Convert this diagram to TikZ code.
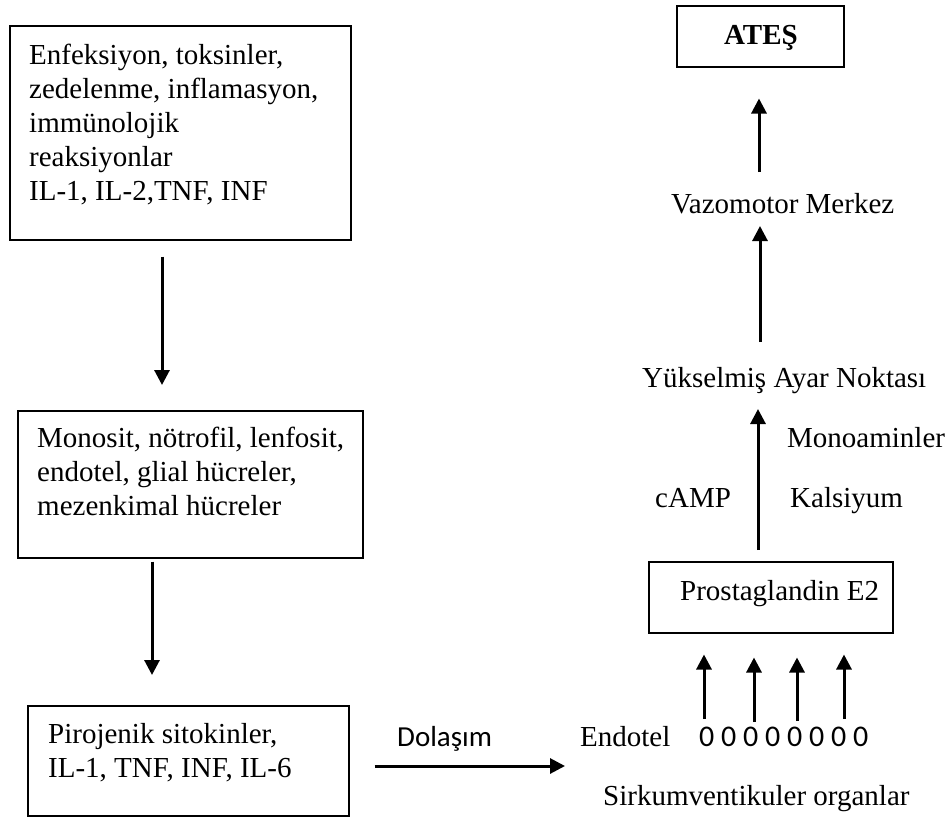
\documentclass[tikz,border=0pt]{standalone}
\usepackage{fontspec}
\setmainfont{Liberation Serif}
\newfontfamily\calfont{Carlito}
\usetikzlibrary{arrows.meta,calc}
\tikzset{
  box/.style={draw=black, line width=1.5pt, inner sep=0pt, anchor=north west},
  txt/.style={inner sep=0pt, anchor=base west, font=\fontsize{29}{34}\selectfont},
  sans/.style={inner sep=0pt, anchor=base west, font=\fontsize{29}{34}\selectfont\calfont},
  arr/.style={line width=3pt, -{Triangle[length=15pt,width=15pt]}}
}
\begin{document}
\begin{tikzpicture}[x=1pt,y=-1pt]
\useasboundingbox (0,0) rectangle (951,819);
% left column boxes
\node[box, minimum width=341, minimum height=214] (b1) at (9,25) {};
\node[txt] (t1) at (29,64) {\begin{tabular}[t]{@{}l@{}}Enfeksiyon, toksinler,\\ zedelenme, inflamasyon,\\ immünolojik\\ reaksiyonlar\\ IL-1, IL-2,TNF, INF\end{tabular}};
\node[box, minimum width=345, minimum height=147] (b2) at (17,410) {};
\node[txt] (t2) at (37,447) {\begin{tabular}[t]{@{}l@{}}Monosit, nötrofil, lenfosit,\\ endotel, glial hücreler,\\ mezenkimal hücreler\end{tabular}};
\node[box, minimum width=321, minimum height=110] (b3) at (27,705) {};
\node[txt] (t3) at (48,743) {\begin{tabular}[t]{@{}l@{}}Pirojenik sitokinler,\\ IL-1, TNF, INF, IL-6\end{tabular}};
% bottom row
\node[sans] (dol) at (397,746) {Dolaşım};
\node[txt] (endo) at (580,746) {Endotel};
\node[sans, font=\fontsize{30}{34}\selectfont\calfont] (z) at (699,746) {0 0 0 0 0 0 0 0};
\node[txt] (sirk) at (603,805) {Sirkumventikuler organlar};
% right column
\node[box, minimum width=244, minimum height=71] (pg) at (648,561) {};
\node[txt] (pgt) at (680,600) {Prostaglandin E2};
\node[txt] (camp) at (655,507) {cAMP};
\node[txt] (kal) at (790,507) {Kalsiyum};
\node[txt] (mono) at (787,447) {Monoaminler};
\node[txt] (yuk) at (642,387) {Yükselmiş Ayar Noktası};
\node[txt] (vaz) at (671,213) {Vazomotor Merkez};
\node[box, minimum width=167, minimum height=61] (ates) at (676,5) {};
\node[txt, anchor=base, font=\fontsize{29}{34}\selectfont\bfseries] (atest) at (761,44) {ATEŞ};
% connectors
\draw[arr] ($(b1.south west)+(153,16)$) -- ($(b2.north west)+(145,-25)$);
\draw[arr] ($(b2.south west)+(135,3)$) -- ($(b3.north west)+(125,-30)$);
\draw[arr] ($(b3.north east)+(25,61)$) -- ($(endo.base west)+(-15,20)$);
\draw[arr] ($(z.base west)+(5,-27)$) -- ($(pg.south west)+(56,21)$);
\draw[arr] ($(z.base west)+(55,-24)$) -- ($(pg.south west)+(106,24)$);
\draw[arr] ($(z.base west)+(98,-25)$) -- ($(pg.south west)+(149,24)$);
\draw[arr] ($(z.base west)+(145,-27)$) -- ($(pg.south west)+(196,21)$);
\draw[arr] ($(pg.north west)+(110,-11)$) -- ($(yuk.base west)+(116,22)$);
\draw[arr] ($(yuk.base west)+(118,-45)$) -- ($(vaz.base west)+(89,13)$);
\draw[arr] ($(vaz.base west)+(88,-41)$) -- ($(ates.south west)+(83,31)$);
\end{tikzpicture}
\end{document}
